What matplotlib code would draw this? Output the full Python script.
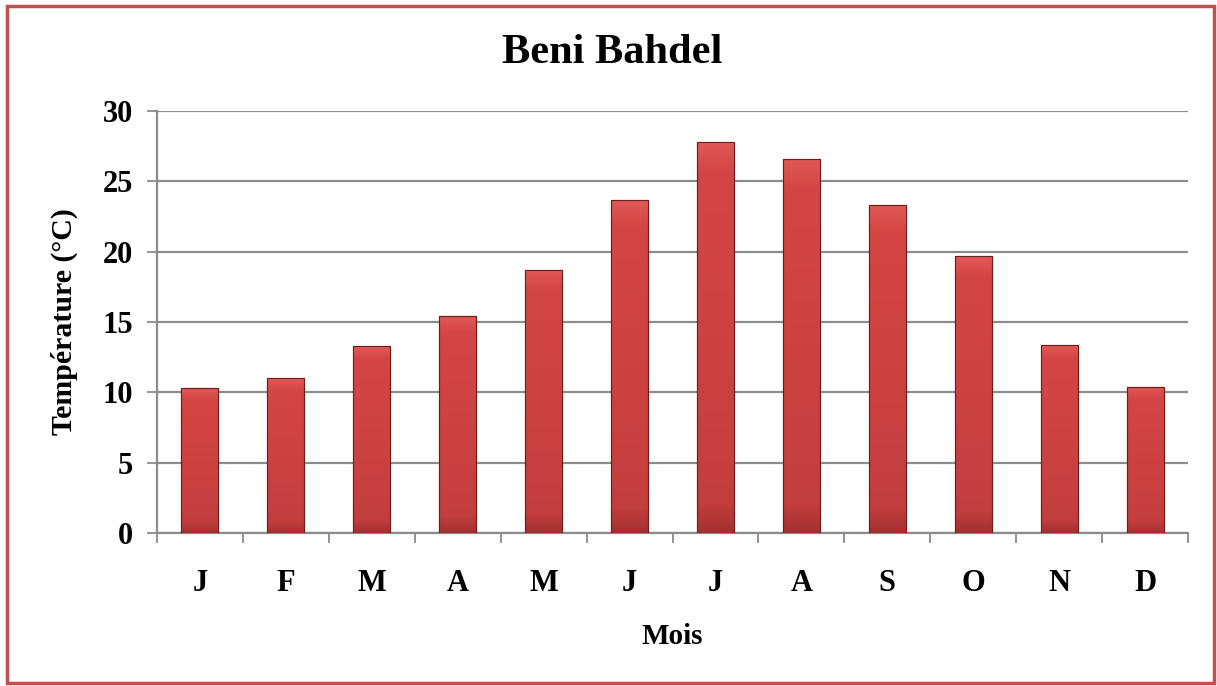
import matplotlib
matplotlib.use("Agg")
import matplotlib.pyplot as plt
import numpy as np
from matplotlib.patches import Rectangle
from matplotlib.colors import LinearSegmentedColormap

months = ["J", "F", "M", "A", "M", "J", "J", "A", "S", "O", "N", "D"]
temperature = [10.3, 11.0, 13.3, 15.4, 18.7, 23.7, 27.8, 26.6, 23.3, 19.7, 13.4, 10.4]
yticks = [0, 5, 10, 15, 20, 25, 30]

plt.rcParams['font.family'] = ['Liberation Serif', 'DejaVu Serif']
plt.rcParams['font.weight'] = 'bold'

fig = plt.figure(figsize=(12.17, 6.86), dpi=100)
ax = fig.add_axes([157/1217, 1-533/686, (1188-157)/1217, (533-111)/686])

x = np.arange(len(months))
bars = ax.bar(x, temperature, width=0.43, color='#C84040', edgecolor='#6E1C1C',
              linewidth=0.8, zorder=3)

cmap = LinearSegmentedColormap.from_list('g', ['#A33030', '#C23E3D', '#CD4241', '#D44645', '#E05A57'])
grad = np.concatenate([np.linspace(0, 0.25, 20), np.linspace(0.25, 0.75, 216), np.linspace(0.75, 1, 20)]).reshape(-1, 1)
for b in bars:
    x0, y0 = b.get_x(), b.get_y()
    w, h = b.get_width(), b.get_height()
    im = ax.imshow(grad, extent=[x0, x0 + w, y0, y0 + h], origin='lower',
                   cmap=cmap, aspect='auto', zorder=3.5)
    im.set_clip_path(b)
    ax.add_patch(Rectangle((x0, y0), w, h, fill=False, edgecolor='#6E1C1C',
                           linewidth=0.8, zorder=4))

ax.set_xlim(-0.5, len(months) - 0.5)
ax.set_ylim(0, 30)
ax.set_yticks(yticks)
ax.set_yticklabels([str(v) for v in yticks], fontsize=22, fontweight='bold')
ax.set_xticks(x)
ax.set_xticklabels(months, fontsize=22, fontweight='bold')
ax.set_xticks(np.arange(-0.5, len(months)), minor=True)
ax.tick_params(axis='x', which='major', length=0, pad=26)
ax.tick_params(axis='x', which='minor', length=7, color='#8C8C8C', width=1.3)
ax.tick_params(axis='y', length=7, color='#8C8C8C', width=1.3, pad=10)

ax.grid(axis='y', color='#8C8C8C', linewidth=1.6, zorder=0)
ax.set_axisbelow(True)
for s in ['top', 'right']:
    ax.spines[s].set_visible(False)
for s in ['left', 'bottom']:
    ax.spines[s].set_color('#8C8C8C')
    ax.spines[s].set_linewidth(1.6)

fig.text(612/1217, 1-53/686, "Beni Bahdel", fontsize=30.5, fontweight='bold',
         ha='center', va='center')
ax.set_xlabel("Mois", fontsize=21, fontweight='bold', labelpad=18)
ax.set_ylabel("Température (°C)", fontsize=21.5, fontweight='bold', labelpad=18)

fig.patches.append(Rectangle((7/1217, 3/686), 1207/1217, 677/686, transform=fig.transFigure,
                             fill=False, edgecolor='#C0504D', linewidth=2.5))

fig.savefig("out.png", dpi=100)
